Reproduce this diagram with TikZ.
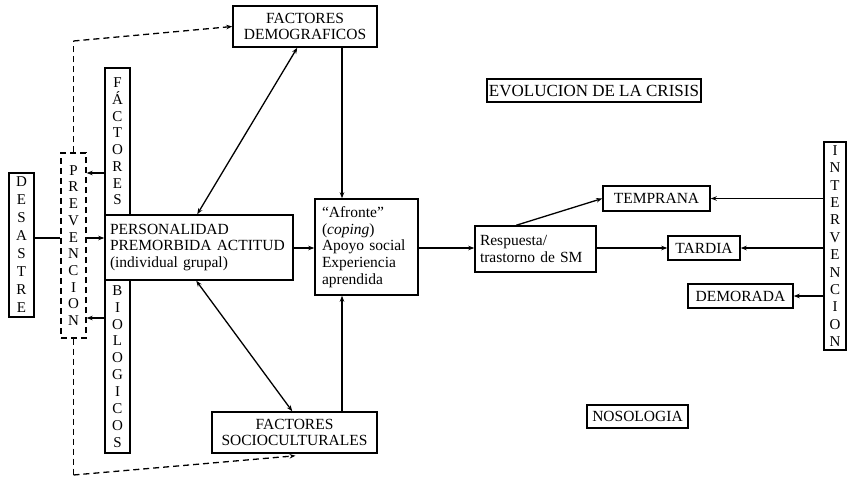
\documentclass[tikz,border=0pt]{standalone}
\usepackage{fontspec}
\setmainfont{Liberation Serif}
\usetikzlibrary{arrows.meta,calc}
\begin{document}
\begin{tikzpicture}[x=1pt,y=-1pt,
  bx/.style={draw, line width=1.5pt, inner sep=0pt, align=center,
    font=\fontsize{15.5}{16.6}\selectfont},
  vbx/.style={draw, line width=1.5pt, inner sep=0pt, align=center,
    font=\fontsize{15}{17}\selectfont},
  lbx/.style={draw, line width=1.5pt, inner ysep=0pt, align=left,
    font=\fontsize{15.5}{16.8}\selectfont},
  arr/.style={line width=1.3pt, -{Stealth[length=6pt,width=4.5pt]}},
  barr/.style={line width=1.3pt, {Stealth[length=6pt,width=4.5pt]}-{Stealth[length=6pt,width=4.5pt]}},
  ln/.style={line width=1.3pt},
  dsh/.style={line width=1.3pt, dash pattern=on 6pt off 4pt}]
\useasboundingbox (0,0) rectangle (858,487);

% vertical boxes
\node[vbx, minimum width=25pt, minimum height=144pt, font=\fontsize{15}{18}\selectfont] (des) at (21.5,245) {D\\E\\S\\A\\S\\T\\R\\E};
\node[vbx, dsh, minimum width=25pt, minimum height=185pt, font=\fontsize{15}{16.7}\selectfont] (prev) at (73.5,245.5) {P\\R\\E\\V\\E\\N\\C\\I\\O\\N};
\node[vbx, minimum width=25pt, minimum height=147pt, font=\fontsize{15}{16.7}\selectfont] (fac) at (117.5,141.5) {F\\Á\\C\\T\\O\\R\\E\\S};
\node[vbx, minimum width=25pt, minimum height=173pt, font=\fontsize{15}{16.9}\selectfont] (bio) at (117.5,366.5) {B\\I\\O\\L\\O\\G\\I\\C\\O\\S};
\node[vbx, minimum width=22pt, minimum height=208pt, font=\fontsize{15}{17.4}\selectfont] (int) at (835,246) {I\\N\\T\\E\\R\\V\\E\\N\\C\\I\\O\\N};

% text boxes
\node[lbx, inner xsep=5pt, text width=178pt, minimum height=65pt] (pers) at (199,247.5) {PERSONALIDAD\\PREMORBIDA ACTITUD\\(individual grupal)};
\node[bx, minimum width=144pt, minimum height=41pt] (dem) at (305,26.5) {FACTORES\\DEMOGRAFICOS};
\node[bx, minimum width=165pt, minimum height=41pt] (soc) at (294.5,432.5) {FACTORES\\SOCIOCULTURALES};
\node[lbx, inner xsep=7pt, text width=89pt, minimum height=96pt] (afr) at (366.5,247) {“Afronte”\\(\textit{coping})\\Apoyo social\\Experiencia\\aprendida};
\node[lbx, inner xsep=5pt, text width=111pt, minimum height=46pt] (resp) at (535.5,249) {Respuesta/\\trastorno de SM};
\node[bx, minimum width=107pt, minimum height=25pt] (temp) at (656.5,198.5) {TEMPRANA};
\node[bx, minimum width=72pt, minimum height=24pt] (tard) at (704,248) {TARDIA};
\node[bx, minimum width=105pt, minimum height=24pt] (demo) at (740.5,296) {DEMORADA};
\node[bx, minimum width=214pt, minimum height=23pt, font=\fontsize{17}{18}\selectfont] (evo) at (594,90.5) {EVOLUCION DE LA CRISIS};
\node[bx, minimum width=101pt, minimum height=23pt] (noso) at (637.5,416.5) {NOSOLOGIA};

% connectors left
\draw[ln] (des.east |- 0,238) -- (prev.west |- 0,238);
\draw[arr] (prev.east |- 0,238) -- (pers.west |- 0,238);
\draw[arr] (fac.west |- 0,173) -- (prev.east |- 0,173);
\draw[arr] (bio.west |- 0,318) -- (prev.east |- 0,318);

% dashed
\coordinate (dtop) at (73.5,41);
\coordinate (dbot) at (73.5,475);
\draw[dsh] (prev.north) -- (dtop);
\draw[dsh, -{Stealth[length=6pt,width=4.5pt]}] (dtop) -- (dem.west);
\draw[dsh] (prev.south) -- (dbot);
\draw[dsh, -{Stealth[length=6pt,width=4.5pt]}] (dbot) -- ($(soc.south)+(1,2)$);

% centre
\draw[barr] ($(pers.north west)+(93,0)$) -- ($(dem.south west)+(65,0)$);
\draw[barr] ($(pers.south west)+(92,0)$) -- ($(soc.north west)+(81,0)$);
\draw[arr] (dem.south -| 342,0) -- (afr.north -| 342,0);
\draw[arr] (soc.north -| 342,0) -- (afr.south -| 342,0);
\draw[arr] (pers.east |- 0,248) -- (afr.west |- 0,248);
\draw[arr] (afr.east |- 0,248) -- (resp.west |- 0,248);

% right
\draw[arr] ($(resp.north west)+(42,0)$) -- (temp.west);
\draw[arr] (resp.east |- 0,248) -- (tard.west);
\draw[arr] (int.west |- temp.east) -- (temp.east);
\draw[arr] (int.west |- tard.east) -- (tard.east);
\draw[arr] (int.west |- demo.east) -- (demo.east);
\end{tikzpicture}
\end{document}
